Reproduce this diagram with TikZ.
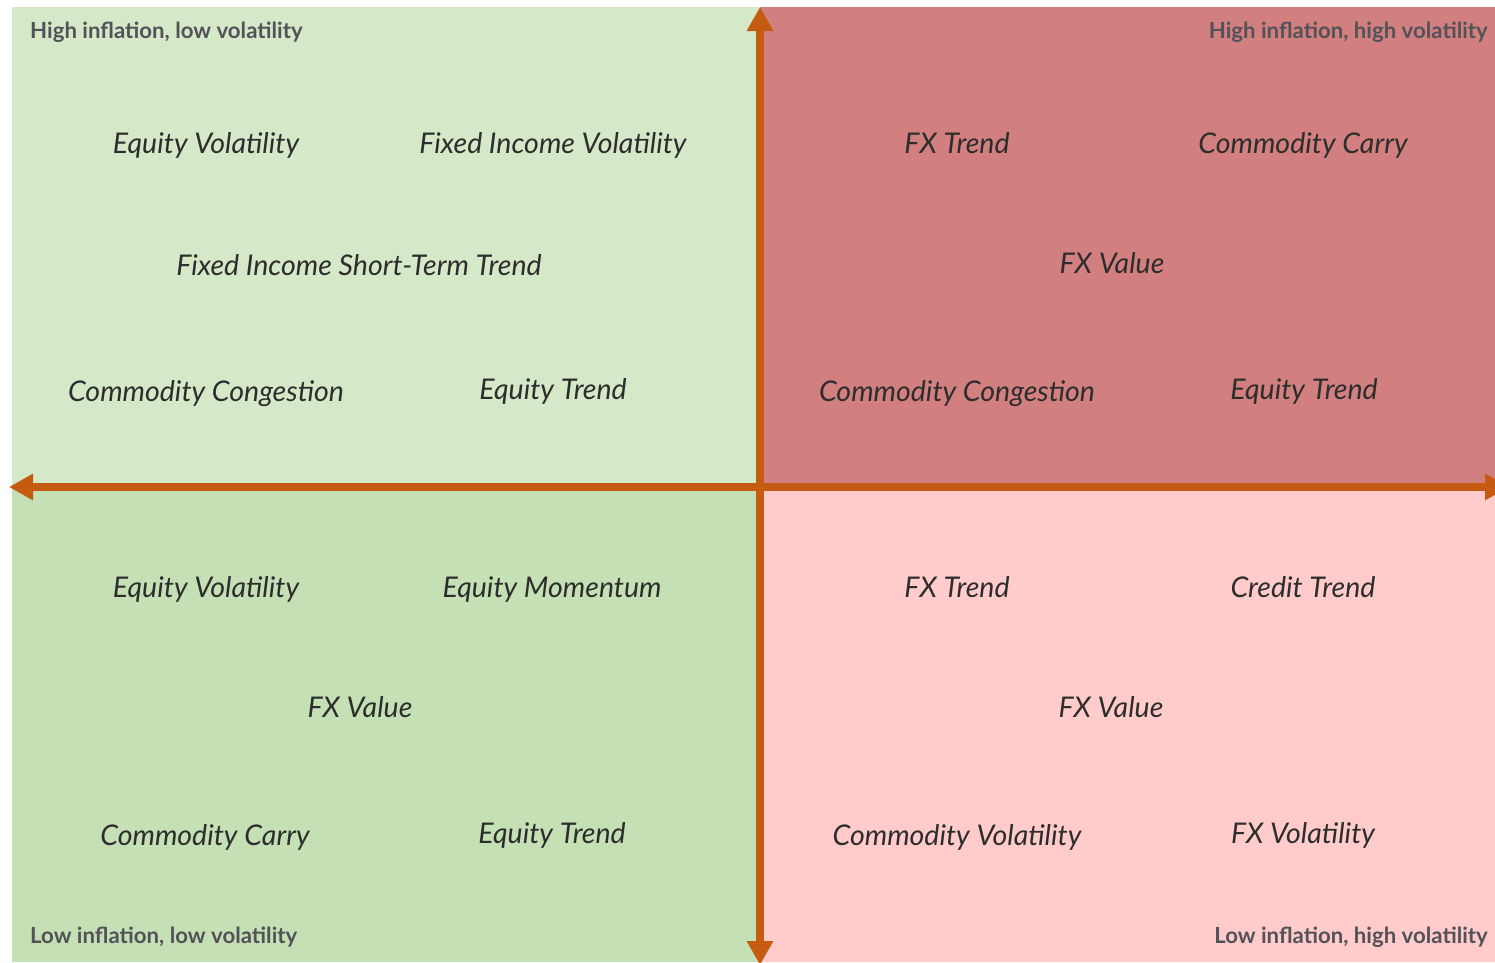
\documentclass[tikz,border=0pt]{standalone}
\usepackage{fontspec}
\setmainfont{Lato}
\usetikzlibrary{arrows.meta}
\definecolor{qhilo}{RGB}{213,232,200}
\definecolor{qlolo}{RGB}{197,224,180}
\definecolor{qhihi}{RGB}{210,127,128}
\definecolor{qlohi}{RGB}{255,203,203}
\definecolor{axiscol}{RGB}{197,90,17}
\definecolor{itemtxt}{RGB}{45,45,45}
\definecolor{cornertxt}{RGB}{82,82,88}
\tikzset{
  item/.style={anchor=base, inner sep=0pt, text=itemtxt,
    font=\fontsize{28.5}{34}\selectfont\itshape},
  corner/.style={inner sep=0pt, text=cornertxt,
    font=\fontsize{22.2}{26}\selectfont\bfseries},
  axis/.style={draw=axiscol, line width=8.7pt,
    {Triangle[length=24pt,width=25pt]}-{Triangle[length=24pt,width=25pt]}},
}
\begin{document}
\begin{tikzpicture}[x=1pt,y=-1pt]
\useasboundingbox (0,0) rectangle (1495,962);
\clip (0,0) rectangle (1495,962);
\fill[white] (0,0) rectangle (1495,962);
% quadrant backgrounds
\fill[qhilo] (12,7) rectangle (760,487);
\fill[qhihi] (760,7) rectangle (1495,487);
\fill[qlolo] (12,487) rectangle (760,962);
\fill[qlohi] (760,487) rectangle (1495,962);
% corner captions
\node[corner, anchor=base west] (cHL) at (30,38) {High inflation, low volatility};
\node[corner, anchor=base east] (cHH) at (1488,38) {High inflation, high volatility};
\node[corner, anchor=base west] (cLL) at (30,943) {Low inflation, low volatility};
\node[corner, anchor=base east] (cLH) at (1488,943) {Low inflation, high volatility};
% high inflation, low volatility
\node[item] (a1) at (206,153) {Equity Volatility};
\node[item] (a2) at (553,153) {Fixed Income Volatility};
\node[item] (a3) at (359,275) {Fixed Income Short-Term Trend};
\node[item] (a4) at (206,401) {Commodity Congestion};
\node[item] (a5) at (553,399) {Equity Trend};
% high inflation, high volatility
\node[item] (b1) at (957,153) {FX Trend};
\node[item] (b2) at (1303,153) {Commodity Carry};
\node[item] (b3) at (1112,273) {FX Value};
\node[item] (b4) at (957,401) {Commodity Congestion};
\node[item] (b5) at (1304,399) {Equity Trend};
% low inflation, low volatility
\node[item] (c1) at (206,597) {Equity Volatility};
\node[item] (c2) at (552,597) {Equity Momentum};
\node[item] (c3) at (360,717) {FX Value};
\node[item] (c4) at (205,845) {Commodity Carry};
\node[item] (c5) at (552,843) {Equity Trend};
% low inflation, high volatility
\node[item] (d1) at (957,597) {FX Trend};
\node[item] (d2) at (1303,597) {Credit Trend};
\node[item] (d3) at (1111,717) {FX Value};
\node[item] (d4) at (957,845) {Commodity Volatility};
\node[item] (d5) at (1303,843) {FX Volatility};
% axes
\coordinate (axTop) at (760,7);
\coordinate (axBottom) at (760,965);
\coordinate (axLeft) at (9,487);
\coordinate (axRight) at (1509,487);
\draw[axis] (axLeft) -- (axRight);
\draw[axis] (axBottom) -- (axTop);
\end{tikzpicture}
\end{document}
